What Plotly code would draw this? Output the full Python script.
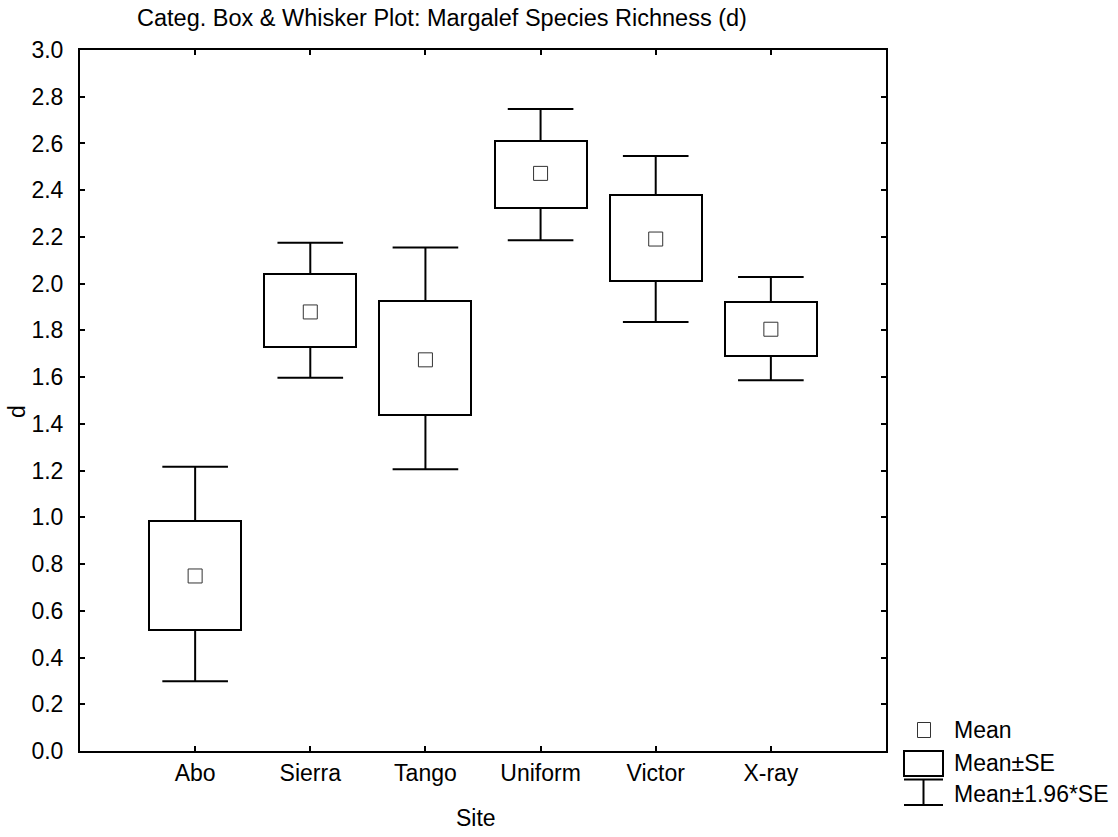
import plotly.graph_objects as go

sites = ["Abo", "Sierra", "Tango", "Uniform", "Victor", "X-ray"]
means = [0.749, 1.879, 1.674, 2.472, 2.191, 1.805]
se_low = [0.517, 1.731, 1.437, 2.325, 2.011, 1.690]
se_high = [0.983, 2.041, 1.925, 2.609, 2.379, 1.922]
ci_low = [0.298, 1.597, 1.206, 2.186, 1.836, 1.587]
ci_high = [1.216, 2.175, 2.155, 2.747, 2.546, 2.029]
y_ticks = [round(0.2 * i, 1) for i in range(16)]

FONT = "Liberation Sans, Arial, sans-serif"
FS = 23
W, H = 1118, 837
L, R, T, B = 80, 232, 50, 86
PW, PH = W - L - R, H - T - B
BOX_W = 0.8
CAP_HALF = 0.285


def px(x):
    return (x - L) / PW


def py(y):
    return (H - B - y) / PH


pos = list(range(len(sites)))

fig = go.Figure()
# Mean +/- SE boxes
fig.add_trace(go.Bar(
    x=pos, base=se_low, y=[h - l for h, l in zip(se_high, se_low)],
    width=BOX_W, marker=dict(color="white", line=dict(color="black", width=2)),
    showlegend=False, hoverinfo="skip",
))
# Mean +/- 1.96*SE whiskers
wx, wy = [], []
for i in pos:
    for a, b in [(se_high[i], ci_high[i]), (se_low[i], ci_low[i])]:
        wx += [i, i, None, i - CAP_HALF, i + CAP_HALF, None]
        wy += [a, b, None, b, b, None]
fig.add_trace(go.Scatter(
    x=wx, y=wy, mode="lines", line=dict(color="black", width=2),
    showlegend=False, hoverinfo="skip",
))
# Means
fig.add_trace(go.Scatter(
    x=pos, y=means, mode="markers",
    marker=dict(symbol="square-open", size=14, color="#333333",
                line=dict(width=1, color="#333333")),
    showlegend=False, hoverinfo="skip",
))

axis_common = dict(
    showline=True, linecolor="black", linewidth=2, mirror="ticks",
    ticks="inside", ticklen=5, tickwidth=2, tickcolor="black",
    showgrid=False, zeroline=False,
    tickfont=dict(family=FONT, size=FS, color="black"),
)
fig.update_xaxes(range=[-1, 6], tickvals=pos, ticktext=sites, **axis_common)
fig.update_yaxes(range=[0, 3], tickvals=y_ticks, tickformat=".1f",
                 ticklabelstandoff=10, **axis_common)

shapes = []
# legend: mean marker
shapes.append(dict(type="rect", xref="paper", yref="paper",
                   x0=px(917.5), x1=px(930.5), y0=py(737.5), y1=py(722.5),
                   line=dict(color="#333333", width=1)))
# legend: box
shapes.append(dict(type="rect", xref="paper", yref="paper",
                   x0=px(904), x1=px(943), y0=py(776), y1=py(751),
                   line=dict(color="black", width=2)))
# legend: whisker
for (xa, ya, xb, yb) in [(904, 779.5, 943, 779.5), (923.5, 779.5, 923.5, 805),
                         (904, 805, 943, 805)]:
    shapes.append(dict(type="line", xref="paper", yref="paper",
                       x0=px(xa), y0=py(ya), x1=px(xb), y1=py(yb),
                       line=dict(color="black", width=2)))

ann = []
for txt, yy in [("Mean", 730), ("Mean±SE", 763), ("Mean±1.96*SE", 794)]:
    ann.append(dict(text=txt, xref="paper", yref="paper", x=px(952), y=py(yy),
                    xanchor="left", yanchor="middle", showarrow=False,
                    font=dict(family=FONT, size=FS, color="black")))
ann.append(dict(text="Categ. Box & Whisker Plot: Margalef Species Richness (d)",
                xref="paper", yref="paper", x=px(135), y=py(18),
                xanchor="left", yanchor="middle", showarrow=False,
                font=dict(family=FONT, size=23.5, color="black")))
ann.append(dict(text="Site", xref="paper", yref="paper", x=px(476), y=py(818),
                xanchor="center", yanchor="middle", showarrow=False,
                font=dict(family=FONT, size=FS, color="black")))
ann.append(dict(text="d", xref="paper", yref="paper", x=px(17), y=py(412),
                xanchor="center", yanchor="middle", showarrow=False, textangle=-90,
                font=dict(family=FONT, size=FS, color="black")))

fig.update_layout(
    width=W, height=H, margin=dict(l=L, r=R, t=T, b=B),
    paper_bgcolor="white", plot_bgcolor="white", bargap=0,
    shapes=shapes, annotations=ann, showlegend=False,
)
fig.write_html("out.html")
